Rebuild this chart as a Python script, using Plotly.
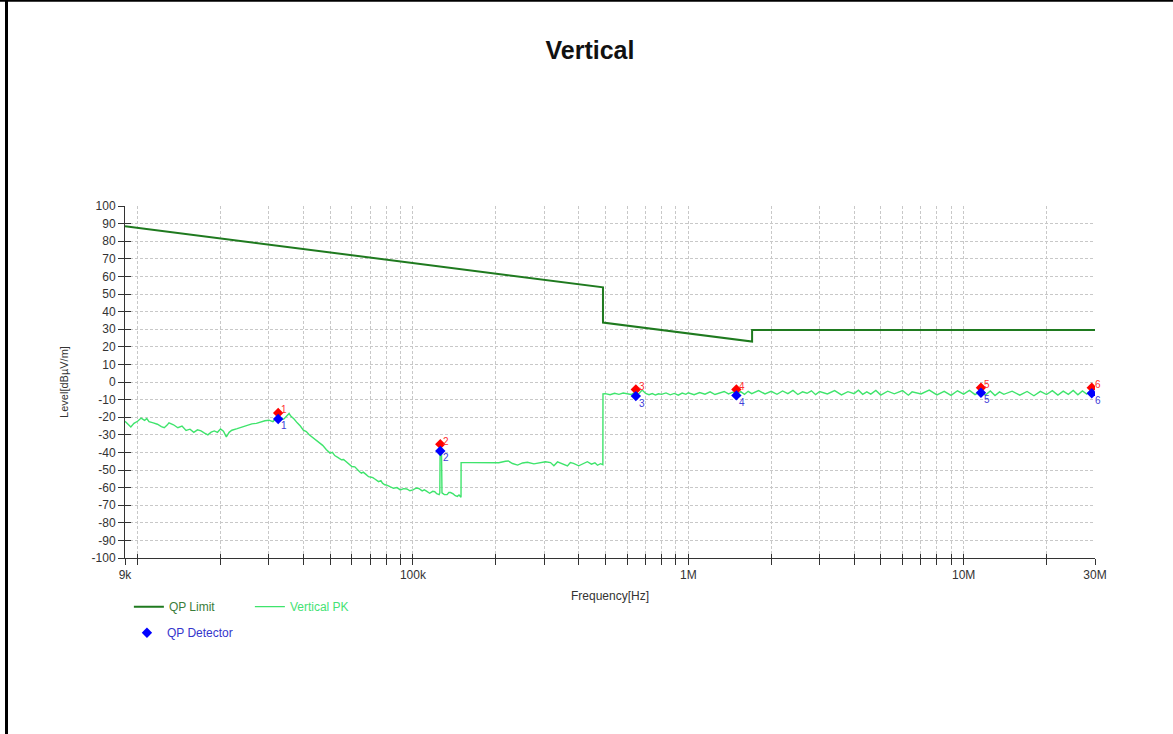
import math
import plotly.graph_objects as go

# ---------------- data ----------------
limit_freq = [9e3, 490e3, 490e3, 1.705e6, 1.705e6, 30e6]
limit_db = [88.5, 53.8, 33.8, 23.0, 29.5, 29.5]

pk_khz_a = [9.0, 9.2, 9.45, 9.7, 10.0, 10.3, 10.6, 10.8, 11.0, 11.4, 11.8, 12.2, 12.5, 12.8,
            13.0, 13.5, 14.0, 14.5, 15.0, 15.5, 16.0, 16.5, 17.0, 17.5, 18.0, 18.5, 19.0,
            19.5, 20.0, 20.5, 21.0, 21.5, 22.0, 23.0, 24.0, 25.0, 26.0, 27.0, 28.0, 29.0,
            30.0, 31.0, 32.0, 33.0, 34.0, 35.0, 35.5, 36.0, 37.0, 38.0, 39.0, 40.0, 41.0,
            42.0, 43.5, 45.0, 46.0, 47.0, 48.5, 50.0, 51.0, 52.0, 53.5, 55.0, 56.0, 57.5,
            59.0, 60.0, 61.5, 62.5, 64.0, 65.0, 66.0, 67.5, 69.0, 70.0, 71.5, 72.5, 74.0,
            75.0, 76.5, 77.5, 79.0, 80.0, 82.5, 85.0, 87.5, 90.0, 92.5, 95.0, 97.5, 100.0,
            103.0, 105.0, 108.0, 110.0, 112.0, 115.0, 118.0, 120.0, 122.0, 124.5, 125.2,
            125.5, 127.0, 127.5, 130.0, 133.0, 135.0, 137.0, 140.0, 142.5, 145.0, 147.0, 149.5]
pk_db_a = [-22.3, -24.0, -25.5, -23.5, -22.3, -20.5, -21.8, -20.8, -22.5, -23.2, -24.0, -25.3,
           -26.0, -24.5, -23.2, -24.3, -26.0, -25.0, -27.5, -26.8, -28.6, -27.2, -27.8, -29.0,
           -30.0, -28.5, -27.8, -28.6, -26.7, -28.0, -31.2, -28.6, -27.4, -26.5, -25.5, -24.8,
           -23.8, -23.5, -22.7, -22.0, -21.7, -22.5, -20.4, -21.5, -21.0, -19.0, -17.9, -19.4,
           -21.0, -23.2, -25.0, -27.4, -28.2, -30.0, -31.8, -33.7, -34.5, -36.0, -38.5, -40.4,
           -40.0, -41.8, -43.0, -44.2, -44.0, -45.5, -47.0, -48.0, -48.2, -49.5, -51.0, -51.8,
           -51.2, -52.5, -53.8, -54.0, -54.3, -55.0, -56.2, -56.6, -56.0, -57.5, -58.4, -58.5,
           -59.5, -60.4, -60.0, -61.3, -60.6, -60.8, -61.8, -61.3, -60.2, -60.5, -61.9, -61.3,
           -62.0, -63.2, -62.1, -62.3, -63.5, -64.0, -63.0, -40.0, -40.5, -63.0, -64.0, -64.0,
           -62.8, -62.8, -63.6, -64.6, -65.0, -64.2, -65.5]

pk_khz_b = [149.6, 161.7, 175.0, 191.0, 205.0, 216.8, 222.0, 230.0, 240.0, 250.0, 260.6,
            275.0, 290.6, 303.0, 316.0, 325.0, 335.0, 350.0, 364.0, 373.0, 383.0, 400.0,
            417.0, 430.0, 445.0, 458.0, 468.0, 480.0, 489.5]
pk_db_b = [-45.8, -45.8, -45.9, -45.7, -45.9, -45.0, -44.9, -46.3, -47.2, -46.0, -45.6,
           -46.5, -46.0, -45.3, -45.8, -47.6, -45.4, -46.6, -47.7, -45.8, -46.2, -47.6,
           -46.0, -45.3, -46.7, -45.9, -47.3, -46.4, -47.0]

pk_khz_c = [490, 500, 520, 540, 560, 580, 600, 620, 640, 660, 680, 700, 720, 740, 760, 780,
            800, 830, 860, 890, 920, 950, 980, 1000, 1050, 1100, 1150, 1200, 1250, 1300,
            1350, 1400, 1450, 1500, 1550, 1600, 1650, 1700, 1800, 1900, 2000, 2100, 2200,
            2300, 2400, 2500, 2600, 2700, 2800, 2900, 3000, 3200, 3400, 3600, 3800, 4000,
            4150, 4300, 4450, 4600, 4800, 5000, 5300, 5600, 6000, 6300, 6500, 7000, 7500,
            8000, 8500, 9000, 9500, 10000, 10500, 11000, 11500, 12000, 12500, 13000, 13500,
            14000, 15000, 16000, 17000, 18000, 19000, 20000, 21000, 22000, 23000, 24000,
            25000, 26000, 27000, 28000, 29000, 30000]
pk_db_c = [-6.8, -6.6, -7.2, -6.4, -7.0, -6.3, -6.9, -7.1, -5.9, -6.8, -4.6, -6.5, -7.2,
           -6.6, -7.4, -6.7, -7.0, -6.2, -7.3, -6.5, -7.5, -6.3, -7.0, -6.1, -7.2, -6.0,
           -6.9, -5.6, -7.1, -6.2, -5.4, -6.8, -5.8, -6.9, -5.5, -7.0, -5.3, -6.6, -4.9,
           -6.8, -5.3, -7.0, -5.1, -6.6, -4.8, -7.1, -5.6, -6.4, -5.0, -7.2, -5.4, -6.8,
           -4.9, -7.3, -5.5, -6.6, -4.7, -7.0, -5.6, -6.9, -4.8, -7.4, -5.2, -6.7, -4.9,
           -7.5, -5.6, -6.8, -4.6, -7.3, -5.3, -7.6, -5.0, -6.9, -4.8, -7.2, -5.5, -7.4,
           -5.1, -7.7, -5.6, -7.0, -5.2, -7.5, -5.4, -7.8, -5.3, -7.1, -4.9, -7.4, -5.2,
           -7.0, -4.8, -7.3, -5.1, -6.9, -4.7, -6.8]

marker_freq = [32.4e3, 125.7e3, 645e3, 1.495e6, 11.56e6, 29.2e6]
marker_label = ["1", "2", "3", "4", "5", "6"]
pk_marker_db = [-17.6, -35.3, -4.3, -4.2, -3.2, -3.2]
qp_marker_db = [-21.0, -39.2, -8.0, -7.6, -6.1, -6.4]

y_tick_vals = [100, 90, 80, 70, 60, 50, 40, 30, 20, 10, 0, -10, -20, -30, -40, -50,
               -60, -70, -80, -90, -100]
y_tick_text = ["100", "90", "80", "70", "60", "50", "40", "30", "20", "10", "0", "-10",
               "-20", "-30", "-40", "-50", "-60", "-70", "-80", "-90", "-100"]
x_tick_vals = [9e3, 1e4, 2e4, 3e4, 4e4, 5e4, 6e4, 7e4, 8e4, 9e4,
               1e5, 2e5, 3e5, 4e5, 5e5, 6e5, 7e5, 8e5, 9e5,
               1e6, 2e6, 3e6, 4e6, 5e6, 6e6, 7e6, 8e6, 9e6,
               1e7, 2e7, 3e7]
x_tick_text = ["9k", "", "", "", "", "", "", "", "", "",
               "100k", "", "", "", "", "", "", "", "",
               "1M", "", "", "", "", "", "", "", "",
               "10M", "", "30M"]

# ---------------- figure ----------------
pk_freq = [v * 1e3 for v in pk_khz_a + pk_khz_b + pk_khz_c]
pk_db = pk_db_a + pk_db_b + pk_db_c

FONT = "Liberation Sans, Arial, sans-serif"
LIMIT_COLOR = "#1f7a1f"
PK_COLOR = "#3fe46c"

fig = go.Figure()
fig.add_trace(go.Scatter(
    x=limit_freq, y=limit_db, mode="lines",
    name="<span style='color:#3a7d3a'>QP Limit</span>",
    line=dict(color=LIMIT_COLOR, width=2), legend="legend"))
fig.add_trace(go.Scatter(
    x=pk_freq, y=pk_db, mode="lines",
    name="<span style='color:#45e274'>Vertical PK</span>",
    line=dict(color=PK_COLOR, width=1.4), legend="legend"))
fig.add_trace(go.Scatter(
    x=marker_freq, y=pk_marker_db, mode="markers", name="PK Detector",
    marker=dict(symbol="diamond", color="#ff0000", size=8),
    showlegend=False))
fig.add_trace(go.Scatter(
    x=marker_freq, y=qp_marker_db, mode="markers",
    name="<span style='color:#3535cc'>QP Detector</span>",
    marker=dict(symbol="diamond", color="#0000ff", size=8),
    legend="legend2"))

# marker number labels (annotation x on a log axis is given in log10 units)
for f, v, lab in zip(marker_freq, pk_marker_db, marker_label):
    fig.add_annotation(x=math.log10(f), y=v, xref="x", yref="y", text=lab, showarrow=False,
                       xanchor="left", yanchor="middle", xshift=1, yshift=3,
                       font=dict(size=10, color="#ff3030", family=FONT))
for f, v, lab in zip(marker_freq, qp_marker_db, marker_label):
    fig.add_annotation(x=math.log10(f), y=v, xref="x", yref="y", text=lab, showarrow=False,
                       xanchor="left", yanchor="middle", xshift=1, yshift=-7,
                       font=dict(size=10, color="#4040d8", family=FONT))

xr = [math.log10(9e3), math.log10(30e6)]

fig.update_layout(
    width=1173, height=734, autosize=False,
    margin=dict(l=125, r=78, t=206, b=176),
    paper_bgcolor="white", plot_bgcolor="white",
    font=dict(family=FONT, size=12, color="#333333"),
    title=dict(text="<b>Vertical</b>", x=590 / 1173, xref="container", xanchor="center",
               y=1 - 50 / 734, yref="container", yanchor="middle",
               font=dict(size=25, color="#111111", family=FONT)),
    xaxis=dict(type="log", range=xr, tickvals=x_tick_vals, ticktext=x_tick_text,
               showgrid=True, gridcolor="#c8c8c8", griddash="3px,2px", gridwidth=1,
               showline=True, linecolor="#333333", linewidth=1,
               ticks="outside", ticklen=6, tickcolor="#333333",
               tickfont=dict(size=12, color="#333333"),
               title=dict(text="Frequency[Hz]", standoff=10, font=dict(size=12, color="#333333")),
               zeroline=False),
    xaxis2=dict(type="log", range=xr, overlaying="x", anchor="y", side="bottom",
                tickvals=x_tick_vals, ticktext=["" for _ in x_tick_vals],
                showgrid=False, showline=False, ticks="inside", ticklen=4,
                tickcolor="#333333", showticklabels=False, zeroline=False),
    yaxis=dict(range=[-100, 100], tickvals=y_tick_vals, ticktext=y_tick_text,
               showgrid=True, gridcolor="#c8c8c8", griddash="3px,2px", gridwidth=1,
               showline=True, linecolor="#333333", linewidth=1,
               ticks="outside", ticklen=6, tickcolor="#333333",
               tickfont=dict(size=12, color="#333333"),
               title=dict(text="Level[dBµV/m]", standoff=20, font=dict(size=11, color="#333333")),
               zeroline=False),
    yaxis2=dict(range=[-100, 100], overlaying="y", anchor="x", side="left",
                tickvals=y_tick_vals, showgrid=False, showline=False,
                ticks="inside", ticklen=6, tickcolor="#333333",
                showticklabels=False, zeroline=False),
    legend=dict(orientation="h", x=0.004, xanchor="left",
                y=-0.097, yanchor="top", font=dict(size=12, family=FONT),
                entrywidth=76, entrywidthmode="pixels",
                bgcolor="rgba(0,0,0,0)"),
    legend2=dict(orientation="h", x=0.002, xanchor="left",
                 y=-0.171, yanchor="top", font=dict(size=12, family=FONT),
                 bgcolor="rgba(0,0,0,0)"),
    showlegend=True,
)

# invisible helper trace so the overlay axes are drawn
fig.add_trace(go.Scatter(x=[1e4], y=[None], xaxis="x2", yaxis="y2", showlegend=False,
                         hoverinfo="skip", mode="markers", marker=dict(opacity=0)))

# page frame (black lines at top and left edge)
fig.add_shape(type="line", xref="paper", yref="paper",
              x0=(0 - 125) / 970, x1=(1173 - 125) / 970,
              y0=(558 - 0.8) / 352, y1=(558 - 0.8) / 352,
              line=dict(color="black", width=2))
fig.add_shape(type="line", xref="paper", yref="paper",
              x0=(6.5 - 125) / 970, x1=(6.5 - 125) / 970,
              y0=(558 - 0) / 352, y1=(558 - 734) / 352,
              line=dict(color="black", width=3))

fig.write_html("out.html")
